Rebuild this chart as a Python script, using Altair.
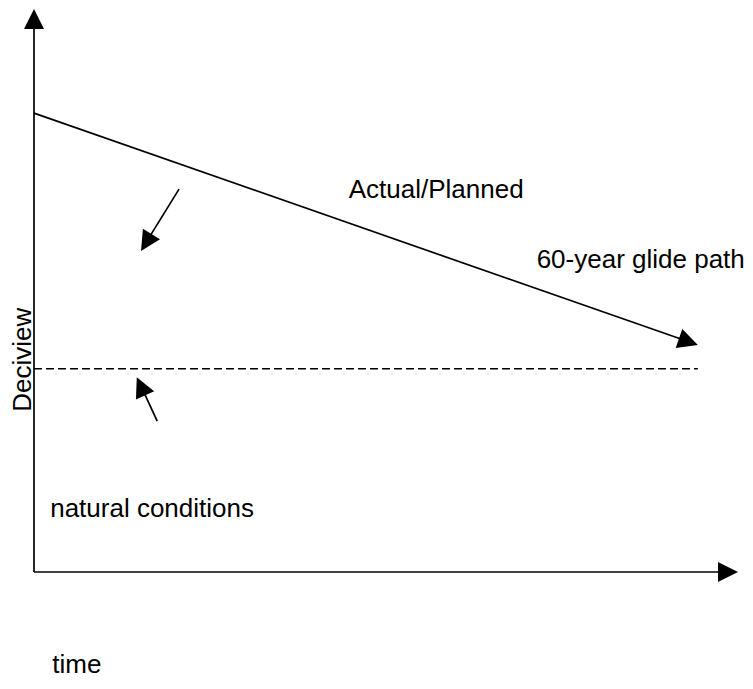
import altair as alt
import pandas as pd

# Schematic coordinates: time (0-100) vs deciview (0-100)
# Solid segments: axes, glide path, small pointer arrows
seg_x1 = [0.0, 0.0, 0.0, 20.6, 17.5]
seg_y1 = [0.0, 0.0, 81.5, 68.0, 26.8]
seg_x2 = [0.0, 97.4, 92.3, 16.3, 15.5]
seg_y2 = [97.0, 0.0, 41.2, 59.3, 32.2]

# Dashed natural-conditions line
dash_x1 = [0.0]
dash_y1 = [36.1]
dash_x2 = [94.3]
dash_y2 = [36.1]

# Arrowheads (tip position + direction in degrees, clockwise from up)
head_x = [0.0, 100.0, 94.3, 15.2, 14.6]
head_y = [100.0, 0.0, 40.3, 57.0, 34.6]
head_angle = [0.0, 90.0, 109.3, 211.5, 335.6]

# Labels
label_text = ["Actual/Planned", "60-year glide path", "natural conditions", "time"]
label_x = [44.7, 71.4, 2.3, 2.6]
label_y = [66.4, 54.0, 9.8, -18.0]

ylabel_text = ["Deciview"]
ylabel_x = [-0.45]
ylabel_y = [37.7]

seg_df = pd.DataFrame({"x": seg_x1, "y": seg_y1, "x2": seg_x2, "y2": seg_y2})
dash_df = pd.DataFrame({"x": dash_x1, "y": dash_y1, "x2": dash_x2, "y2": dash_y2})
head_df = pd.DataFrame({"x": head_x, "y": head_y, "angle": head_angle})
label_df = pd.DataFrame({"t": label_text, "x": label_x, "y": label_y})
ylabel_df = pd.DataFrame({"t": ylabel_text, "x": ylabel_x, "y": ylabel_y})

xs = alt.Scale(domain=[0, 100], nice=False, zero=False)
ys = alt.Scale(domain=[0, 100], nice=False, zero=False)
X = alt.X("x:Q", scale=xs, axis=None)
Y = alt.Y("y:Q", scale=ys, axis=None)

FONT = "Liberation Sans"

segs = alt.Chart(seg_df).mark_rule(color="black", strokeWidth=1.7).encode(
    x=X, y=Y, x2="x2:Q", y2="y2:Q"
)
dash = alt.Chart(dash_df).mark_rule(color="black", strokeWidth=1.5, strokeDash=[8, 4]).encode(
    x=X, y=Y, x2="x2:Q", y2="y2:Q"
)
heads = alt.Chart(head_df).mark_point(
    shape="M0,0L-1,2L1,2Z", filled=True, size=400, color="black", opacity=1, strokeWidth=0
).encode(x=X, y=Y, angle=alt.Angle("angle:Q", scale=None))

labels = alt.Chart(label_df).mark_text(
    align="left", baseline="alphabetic", font=FONT, fontSize=26, color="black"
).encode(x=X, y=Y, text="t:N")

ylabel = alt.Chart(ylabel_df).mark_text(
    align="center", baseline="alphabetic", font=FONT, fontSize=26, color="black", angle=270
).encode(x=X, y=Y, text="t:N")

chart = alt.layer(segs, dash, heads, labels, ylabel).properties(
    width=704,
    height=563,
    padding={"left": 26, "top": 1, "right": 7, "bottom": 109},
    autosize=alt.AutoSizeParams(type="none"),
    background="white",
).configure_view(stroke=None)

chart.save("out.html", embed_options={"renderer": "svg", "actions": False})
